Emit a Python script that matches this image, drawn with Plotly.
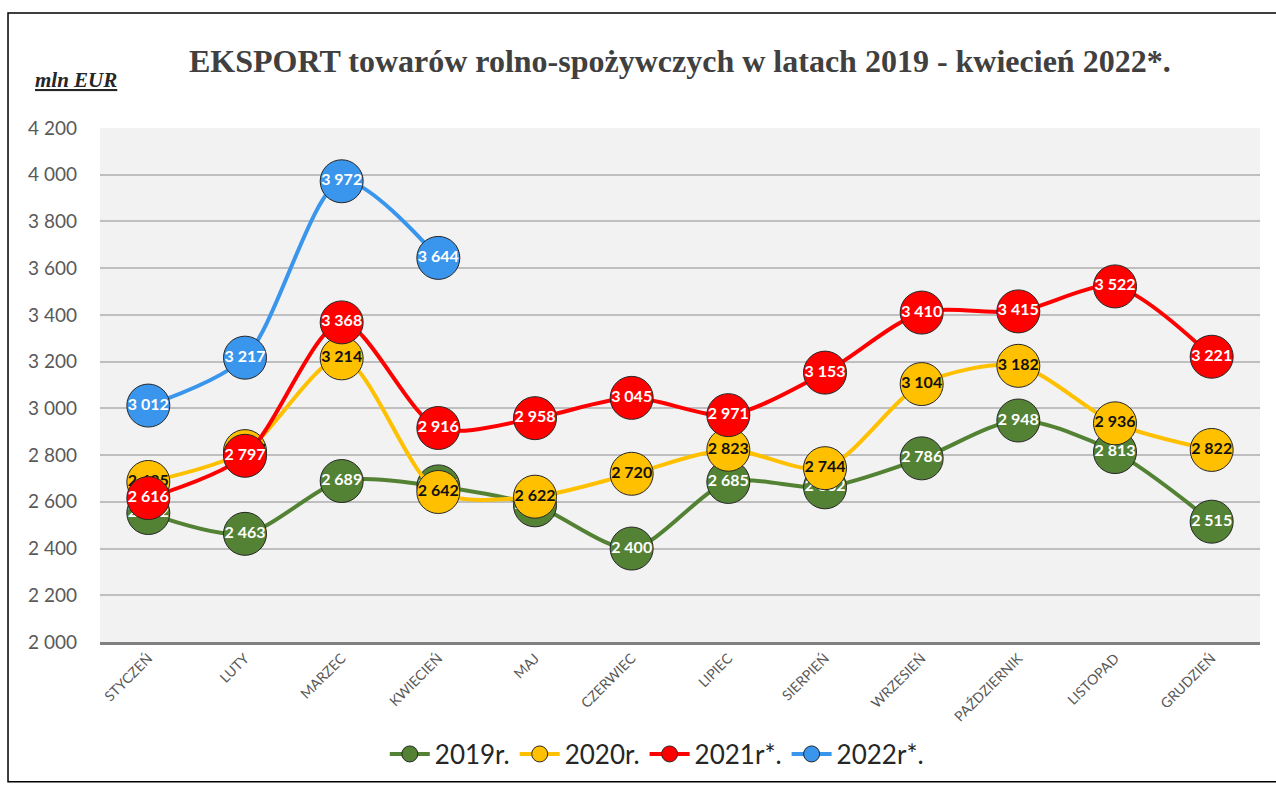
import plotly.graph_objects as go

months = ["STYCZEŃ", "LUTY", "MARZEC", "KWIECIEŃ", "MAJ", "CZERWIEC", "LIPIEC",
          "SIERPIEŃ", "WRZESIEŃ", "PAŹDZIERNIK", "LISTOPAD", "GRUDZIEŃ"]
v2019 = [2552, 2463, 2689, 2666, 2585, 2400, 2685, 2662, 2786, 2948, 2813, 2515]
v2020 = [2685, 2817, 3214, 2642, 2622, 2720, 2823, 2744, 3104, 3182, 2936, 2822]
v2021 = [2616, 2797, 3368, 2916, 2958, 3045, 2971, 3153, 3410, 3415, 3522, 3221]
v2022 = [3012, 3217, 3972, 3644]
y_ticks = [2000, 2200, 2400, 2600, 2800, 3000, 3200, 3400, 3600, 3800, 4000, 4200]

series = [
    ("2019r.", v2019, "#548235", "white"),
    ("2020r.", v2020, "#FFC000", "#111111"),
    ("2021r*.", v2021, "#FF0000", "white"),
    ("2022r*.", v2022, "#3A95EC", "white"),
]

def fmt(v):
    return f"{v:,}".replace(",", " ")

fig = go.Figure()
for name, vals, col, tcol in series:
    fig.add_trace(go.Scatter(
        x=months[:len(vals)], y=vals, name=name,
        mode="lines+markers+text",
        line=dict(color=col, width=4, shape="spline", smoothing=0.8),
        marker=dict(size=43, color=col, line=dict(color="#262626", width=1)),
        text=[fmt(v) for v in vals], textposition="middle center",
        textfont=dict(family="Lato", size=16, color=tcol, weight="bold"),
        cliponaxis=False,
        hoverinfo="skip",
    ))

fig.update_layout(
    width=1276, height=790,
    margin=dict(l=100, r=16, t=128, b=143),
    paper_bgcolor="white", plot_bgcolor="#F2F2F2",
    separators=", ",
    showlegend=True,
    legend=dict(orientation="h", x=0.48, xanchor="center", y=-0.218, yanchor="middle",
                font=dict(family="Lato", size=26, color="#262626"),
                itemwidth=40, tracegroupgap=0, bgcolor="rgba(0,0,0,0)"),
    font=dict(family="Lato"),
)
fig.update_yaxes(
    range=[2000, 4200], tickvals=y_ticks, tickformat=",d",
    showgrid=True, gridcolor="#BFBFBF", gridwidth=1.5,
    tickfont=dict(family="Lato", size=19, color="#595959"),
    ticks="", ticklabelstandoff=22, zeroline=False, automargin=False,
)
fig.update_xaxes(
    type="category", categoryorder="array", categoryarray=months,
    range=[-0.5, 11.5], tickangle=-45,
    tickfont=dict(family="Lato", size=14, color="#595959"),
    showline=True, linecolor="#808080", linewidth=2.5, showgrid=False, automargin=False,
)

fig.add_annotation(
    text="EKSPORT towarów rolno-spożywczych w latach 2019 - kwiecień 2022*.",
    xref="paper", yref="paper", x=0.5, y=1.131, xanchor="center", yanchor="middle",
    showarrow=False, font=dict(family="Liberation Serif", size=32, color="#404040", weight="bold"),
)
fig.add_annotation(
    text="<b><i><u>mln EUR</u></i></b>",
    xref="paper", yref="paper", x=-0.0578, y=1.0925, xanchor="left", yanchor="middle",
    showarrow=False, font=dict(family="Liberation Serif", size=21, color="#262626"),
)
fig.add_shape(type="rect", xref="paper", yref="paper",
              x0=-0.0793, x1=1.03, y0=-0.2717, y1=1.2235,
              line=dict(color="black", width=1.5), fillcolor="rgba(0,0,0,0)", layer="below")

fig.write_html("out.html", config={"displayModeBar": False},
               post_script="document.body.style.margin='0';")
